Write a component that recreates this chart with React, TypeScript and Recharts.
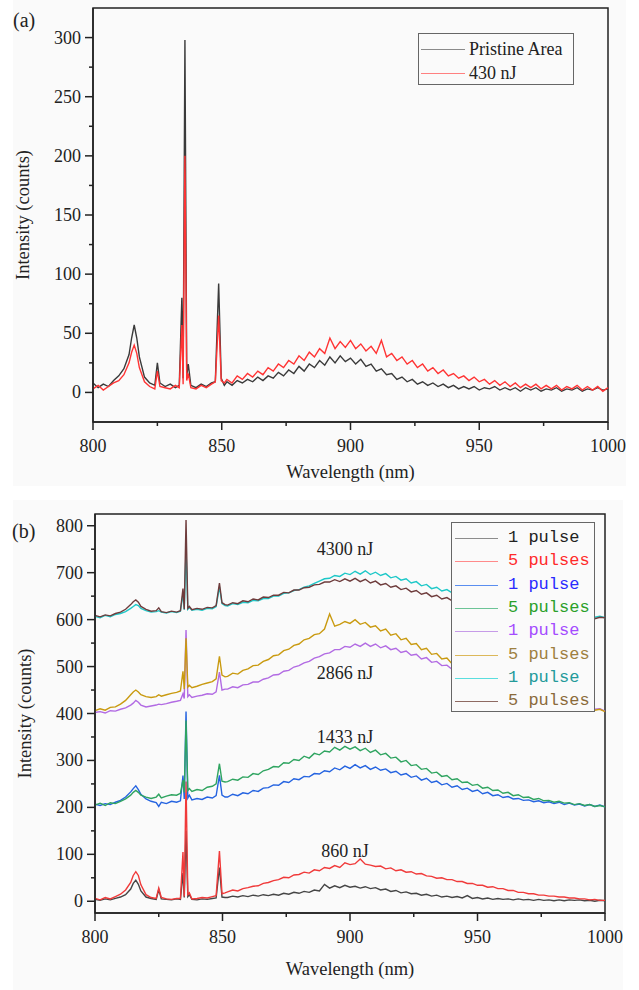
import { LineChart, Line, XAxis, YAxis, ReferenceArea } from 'recharts'

const SERIF = '"Liberation Serif", "Times New Roman", serif'
const MONO = '"Liberation Mono", "DejaVu Sans Mono", monospace'
const INK = '#222'

// wavelength grid (nm), denser around the sharp lines
const wavelength = [
  800, 802, 804, 806, 808, 810, 812, 814, 815, 816, 817, 818, 820, 822, 824, 825, 826, 828, 830, 832,
  833.5, 834.5, 835, 835.7, 836.4, 837, 838, 840, 842, 844, 846, 847.5, 848.8, 849.8, 851,
  852, 854, 856, 858, 860, 862, 864, 866, 868, 870,
  872, 874, 876, 878, 880, 882, 884, 886, 888, 890,
  892, 894, 896, 898, 900, 902, 904, 906, 908, 910,
  912, 914, 916, 918, 920, 922, 924, 926, 928, 930,
  932, 934, 936, 938, 940, 942, 944, 946, 948, 950,
  952, 954, 956, 958, 960, 962, 964, 966, 968, 970,
  972, 974, 976, 978, 980, 982, 984, 986, 988, 990,
  992, 994, 996, 998, 1000,
]

// panel (a)
const pristine = [
  8, 4, 7, 5, 10, 14, 20, 32, 46, 57, 46, 30, 13, 8, 6, 25, 8, 5, 7, 4,
  6, 80, 12, 298, 14, 24, 6, 4, 7, 5, 8, 9, 92, 12, 6,
  9, 6, 10, 8, 11, 9, 13, 10, 14, 12,
  17, 14, 19, 16, 22, 18, 24, 21, 27, 23,
  30, 25, 31, 26, 29, 24, 28, 22, 24, 18,
  20, 15, 16, 11, 13, 9, 11, 7, 9, 6,
  8, 5, 7, 4, 6, 3, 5, 3, 5, 2,
  4, 3, 5, 2, 4, 2, 4, 1, 4, 2,
  4, 1, 3, 2, 4, 1, 3, 2, 4, 1,
  3, 2, 4, 2, 3,
]
const nj430 = [
  3, 6, 2, 5, 8, 10, 15, 25, 34, 40, 33, 21, 9, 5, 3, 18, 5, 4, 3, 6,
  4, 57, 7, 200, 10, 16, 4, 3, 6, 4, 7, 9, 65, 10, 8,
  11, 8, 14, 11, 16, 13, 18, 15, 21, 18,
  24, 21, 27, 24, 31, 27, 34, 30, 37, 33,
  46, 37, 43, 38, 44, 37, 41, 35, 39, 33,
  44, 30, 33, 27, 30, 24, 27, 21, 24, 18,
  21, 16, 19, 14, 16, 12, 14, 10, 13, 9,
  11, 7, 10, 6, 9, 5, 8, 4, 7, 4,
  7, 3, 6, 3, 6, 2, 5, 3, 6, 2,
  5, 2, 5, 1, 4,
]

// panel (b)
const p1_860 = [
  4, 2, 5, 3, 6, 9, 14, 26, 38, 45, 36, 22, 9, 6, 4, 25, 5, 4, 3, 5,
  4, 60, 8, 150, 10, 14, 4, 3, 5, 4, 6, 7, 72, 9, 8,
  8, 11, 9, 12, 10, 13, 11, 14, 12, 15,
  13, 17, 15, 19, 17, 21, 19, 24, 22, 36,
  28, 33, 29, 34, 30, 32, 28, 31, 27, 29,
  24, 26, 21, 23, 18, 20, 16, 17, 13, 15,
  11, 13, 9, 11, 8, 10, 7, 12, 6, 8,
  5, 7, 4, 6, 4, 5, 3, 5, 3, 4,
  2, 4, 2, 3, 1, 3, 1, 3, 2, 3,
  1, 2, 0, 2, 1,
]
const p5_860 = [
  6, 3, 8, 5, 10, 15, 24, 40, 55, 63, 55, 35, 14, 8, 6, 28, 8, 5, 4, 6,
  6, 105, 10, 255, 14, 18, 5, 6, 8, 7, 10, 12, 107, 16, 18,
  20, 24, 22, 27, 29, 32, 33, 38, 40, 44,
  46, 51, 50, 56, 57, 62, 60, 67, 65, 72,
  70, 76, 72, 82, 78, 80, 90, 79, 77, 74,
  75, 69, 71, 65, 67, 62, 63, 58, 59, 54,
  53, 49, 50, 46, 46, 42, 42, 38, 38, 34,
  34, 30, 31, 27, 27, 23, 23, 19, 19, 16,
  16, 13, 13, 11, 11, 9, 9, 7, 7, 5,
  5, 3, 4, 2, 2,
]
const p1_1433 = [
  207, 204, 208, 206, 211, 215, 222, 233, 240, 246, 238, 228, 218, 213, 210, 202, 211, 208, 213, 211,
  214, 268, 218, 404, 220, 226, 216, 219, 217, 222, 220, 225, 268, 226, 222,
  222, 228, 225, 231, 229, 236, 234, 241, 242, 248,
  247, 255, 253, 261, 259, 266, 265, 272, 271, 278,
  276, 284, 280, 288, 283, 291, 284, 289, 281, 286,
  279, 282, 274, 277, 269, 272, 264, 267, 258, 262,
  253, 256, 248, 251, 243, 246, 238, 241, 234, 237,
  229, 232, 225, 227, 221, 223, 218, 219, 215, 216,
  212, 214, 210, 212, 208, 211, 206, 209, 205, 207,
  203, 206, 202, 205, 201,
]
const p5_1433 = [
  205, 209, 204, 210, 208, 213, 218, 226, 232, 236, 232, 226, 222, 219, 222, 228, 220, 224, 227, 226,
  230, 258, 232, 385, 236, 240, 234, 238, 236, 243, 245, 250, 293, 256, 254,
  255, 260, 258, 265, 264, 272, 270, 278, 281, 287,
  286, 295, 294, 302, 300, 309, 305, 315, 312, 320,
  318, 328, 322, 330, 324, 329, 321, 326, 317, 322,
  312, 315, 305, 307, 297, 300, 289, 291, 281, 283,
  273, 275, 266, 268, 259, 261, 253, 254, 247, 249,
  241, 243, 236, 237, 230, 232, 225, 227, 221, 222,
  217, 219, 214, 215, 211, 213, 209, 210, 206, 208,
  204, 206, 202, 204, 201,
]
const p1_2866 = [
  402, 404, 401, 406, 405, 409, 412, 418, 422, 428, 424, 418, 414, 416, 418, 420, 419, 421, 424, 426,
  428, 442, 432, 578, 436, 440, 434, 437, 439, 442, 441, 446, 488, 450, 452,
  452, 457, 455, 461, 462, 467, 467, 473, 476, 482,
  483, 490, 492, 499, 502, 508, 511, 518, 521, 527,
  529, 536, 536, 543, 541, 548, 543, 550, 543, 548,
  540, 544, 536, 539, 530, 533, 524, 526, 516, 519,
  509, 511, 502, 503, 494, 496, 488, 489, 481, 482,
  474, 475, 466, 468, 459, 461, 452, 453, 445, 447,
  439, 440, 433, 435, 428, 429, 423, 424, 418, 420,
  413, 415, 409, 410, 405,
]
const p5_2866 = [
  406, 410, 407, 413, 414, 420, 428, 440, 446, 450, 446, 440, 436, 434, 436, 440, 437, 440, 443, 445,
  448, 490, 452, 560, 456, 460, 455, 458, 462, 465, 468, 474, 522, 482, 478,
  479, 486, 484, 492, 495, 502, 503, 511, 515, 523,
  525, 534, 537, 545, 548, 557, 560, 568, 570, 580,
  612, 586, 590, 596, 592, 600, 590, 594, 584, 587,
  576, 580, 567, 570, 557, 560, 547, 549, 536, 539,
  526, 528, 516, 518, 506, 508, 497, 499, 488, 490,
  479, 481, 470, 472, 462, 463, 454, 455, 446, 447,
  438, 440, 431, 433, 425, 427, 419, 421, 414, 416,
  410, 412, 407, 409, 404,
]
const p1_4300 = [
  607, 604, 609, 606, 611, 613, 617, 624, 628, 632, 630, 624, 619, 616, 617, 619, 616, 614, 617, 615,
  618, 655, 621, 750, 622, 626, 620, 622, 620, 624, 623, 628, 670, 634, 630,
  629, 634, 632, 637, 636, 641, 640, 645, 645, 650,
  650, 656, 657, 662, 664, 669, 672, 677, 682, 687,
  688, 694, 692, 699, 696, 703, 697, 704, 696, 701,
  694, 698, 689, 692, 684, 687, 678, 681, 672, 675,
  666, 669, 661, 664, 657, 659, 652, 655, 648, 651,
  644, 646, 639, 641, 635, 637, 630, 632, 626, 628,
  622, 624, 618, 620, 615, 617, 612, 614, 609, 611,
  607, 609, 605, 607, 604,
]
const p5_4300 = [
  609, 606, 610, 608, 613, 616, 622, 632, 638, 642, 637, 628, 622, 618, 619, 625, 617, 615, 618, 616,
  619, 666, 622, 812, 624, 628, 621, 624, 622, 626, 625, 630, 678, 636, 632,
  631, 636, 634, 640, 638, 644, 642, 648, 647, 652,
  652, 658, 657, 663, 663, 668, 669, 674, 675, 680,
  680, 685, 681, 687, 682, 688, 681, 686, 678, 682,
  674, 677, 669, 672, 664, 667, 659, 662, 654, 657,
  649, 652, 644, 647, 640, 643, 636, 639, 632, 635,
  628, 631, 625, 627, 621, 624, 618, 621, 615, 618,
  612, 615, 610, 612, 608, 611, 606, 609, 604, 607,
  603, 606, 602, 605, 604,
]

const xTicks = [800, 825, 850, 875, 900, 925, 950, 975, 1000]
const yTicksA = [0, 25, 50, 75, 100, 125, 150, 175, 200, 225, 250, 275, 300]
const yTicksB = [0, 50, 100, 150, 200, 250, 300, 350, 400, 450, 500, 550, 600, 650, 700, 750, 800]

const seriesA = [
  { key: 'pristine', name: 'Pristine Area', values: pristine, color: '#3a3a3a', legend: '#8a8a8a' },
  { key: 'nj430', name: '430 nJ', values: nj430, color: '#ff3333', legend: '#ff8080' },
]

const seriesB = [
  { key: 'p1_860', name: '1 pulse', values: p1_860, color: '#454545', legend: '#8c8c8c', text: '#222' },
  { key: 'p5_860', name: '5 pulses', values: p5_860, color: '#f03a3a', legend: '#ff8a8a', text: '#ff2a2a' },
  { key: 'p1_1433', name: '1 pulse', values: p1_1433, color: '#2463e0', legend: '#5a8ef0', text: '#2a2aff' },
  { key: 'p5_1433', name: '5 pulses', values: p5_1433, color: '#2fa460', legend: '#6cc497', text: '#2aa02a' },
  { key: 'p1_2866', name: '1 pulse', values: p1_2866, color: '#b26be3', legend: '#c69be8', text: '#a44cff' },
  { key: 'p5_2866', name: '5 pulses', values: p5_2866, color: '#c99a10', legend: '#dcb85a', text: '#9e8040' },
  { key: 'p1_4300', name: '1 pulse', values: p1_4300, color: '#1ec8c8', legend: '#5adede', text: '#249a9a' },
  { key: 'p5_4300', name: '5 pulses', values: p5_4300, color: '#6e3c3c', legend: '#8e6a62', text: '#8a6a3a' },
]

const energyLabels = [
  { text: '4300 nJ', top: 549 },
  { text: '2866 nJ', top: 673 },
  { text: '1433 nJ', top: 737 },
  { text: '860 nJ', top: 851 },
]

const rowsA = wavelength.map((wl, i) => {
  const row: Record<string, number> = { wl }
  seriesA.forEach((s) => (row[s.key] = s.values[i]))
  return row
})
const rowsB = wavelength.map((wl, i) => {
  const row: Record<string, number> = { wl }
  seriesB.forEach((s) => (row[s.key] = s.values[i]))
  return row
})

const GAP = 12 // tickSize + tickMargin
const serifStyle = { fontFamily: SERIF }

function XTick({ x, y, payload }: any) {
  const v = payload.value
  const major = v % 50 === 0
  const y0 = y - GAP
  return (
    <g>
      <line x1={x} x2={x} y1={y0} y2={y0 + (major ? 8 : 4)} stroke={INK} strokeWidth={1.5} />
      {major && (
        <text x={x} y={y0 + 30} textAnchor="middle" fontSize={18} style={serifStyle} fill={INK}>
          {v}
        </text>
      )}
    </g>
  )
}

const makeYTick = (step: number) =>
  function YTick({ x, y, payload }: any) {
    const v = payload.value
    const major = v % step === 0
    const x0 = x + GAP
    return (
      <g>
        <line x1={x0} x2={x0 - (major ? 8 : 4)} y1={y} y2={y} stroke={INK} strokeWidth={1.5} />
        {major && (
          <text x={x0 - 12} y={y + 6} textAnchor="end" fontSize={18} style={serifStyle} fill={INK}>
            {v}
          </text>
        )}
      </g>
    )
  }

const yLabel = ({ viewBox }: any) => {
  const cx = viewBox.x + 5
  const cy = viewBox.y + viewBox.height / 2
  return (
    <text
      x={cx}
      y={cy}
      transform={`rotate(-90, ${cx}, ${cy})`}
      textAnchor="middle"
      dominantBaseline="central"
      fontSize={18.5}
      style={serifStyle}
      fill={INK}
    >
      Intensity (counts)
    </text>
  )
}

const makeXLabel = (offset: number) =>
  function XLabel({ viewBox }: any) {
    const cx = viewBox.x + viewBox.width / 2
    const top = viewBox.y + viewBox.height + offset
    return (
      <text x={cx} y={top + 13} textAnchor="middle" fontSize={18.5} style={serifStyle} fill={INK}>
        Wavelength (nm)
      </text>
    )
  }

function Panel({ rows, series, ticksY, domainY, majorY, margin, labelOffset }: any) {
  return (
    <LineChart width={639} height={490} data={rows} margin={margin}>
      <XAxis
        dataKey="wl"
        type="number"
        domain={[800, 1000]}
        ticks={xTicks}
        interval={0}
        tickSize={8}
        tickMargin={4}
        tickLine={false}
        tick={XTick}
        height={40}
        axisLine={{ stroke: INK, strokeWidth: 1.5 }}
        label={{ content: makeXLabel(labelOffset) }}
      />
      <YAxis
        type="number"
        domain={domainY}
        ticks={ticksY}
        interval={0}
        tickSize={8}
        tickMargin={4}
        tickLine={false}
        tick={makeYTick(majorY)}
        width={75}
        axisLine={{ stroke: INK, strokeWidth: 1.5 }}
        label={{ content: yLabel }}
      />
      <ReferenceArea x1={800} x2={1000} y1={domainY[0]} y2={domainY[1]} fill="none" stroke={INK} strokeWidth={1.5} ifOverflow="visible" />
      {series.map((s: any) => (
        <Line
          key={s.key}
          dataKey={s.key}
          name={s.name}
          type="linear"
          stroke={s.color}
          strokeWidth={1.4}
          dot={false}
          activeDot={false}
          isAnimationActive={false}
        />
      ))}
    </LineChart>
  )
}

export default function App() {
  return (
    <div style={{ position: 'absolute', left: 0, top: 0, width: 639, height: 990, background: '#fff', fontFamily: SERIF, color: INK }}>
      <div style={{ position: 'absolute', left: 13, top: 0, width: 613, height: 486, background: '#fafafa' }} />
      <div style={{ position: 'absolute', left: 13, top: 500, width: 610, height: 490, background: '#fafafa' }} />

      <div style={{ position: 'absolute', left: 0, top: 0 }}>
        <Panel
          rows={rowsA}
          series={seriesA}
          ticksY={yTicksA}
          domainY={[-25, 325]}
          majorY={50}
          margin={{ top: 8, right: 31, bottom: 28, left: 18 }}
          labelOffset={3}
        />
      </div>
      <div style={{ position: 'absolute', left: 13, top: 8, fontSize: 20, lineHeight: '24px' }}>(a)</div>

      <div style={{ position: 'absolute', left: 418, top: 33, width: 156, height: 52, border: '1px solid #666', boxSizing: 'border-box', background: '#fafafa' }}>
        {seriesA.map((s, i) => (
          <div key={s.key} style={{ position: 'absolute', left: 0, top: 3 + 24 * i, height: 24, width: '100%' }}>
            <div style={{ position: 'absolute', left: 2, top: 12, width: 44, height: 1, background: s.legend }} />
            <div style={{ position: 'absolute', left: 50, top: 0, fontSize: 18, lineHeight: '24px', whiteSpace: 'nowrap' }}>{s.name}</div>
          </div>
        ))}
      </div>

      <div style={{ position: 'absolute', left: 2, top: 490 }}>
        <Panel
          rows={rowsB}
          series={seriesB}
          ticksY={yTicksB}
          domainY={[-25, 825]}
          majorY={100}
          margin={{ top: 24, right: 36, bottom: 27, left: 18 }}
          labelOffset={9}
        />
      </div>
      <div style={{ position: 'absolute', left: 12, top: 519, fontSize: 20, lineHeight: '24px' }}>(b)</div>

      {energyLabels.map((l) => (
        <div key={l.text} style={{ position: 'absolute', left: 345, top: l.top, transform: 'translate(-50%, -50%)', fontSize: 18, whiteSpace: 'nowrap' }}>
          {l.text}
        </div>
      ))}

      <div style={{ position: 'absolute', left: 451, top: 522, width: 144, height: 190, border: '1px solid #666', boxSizing: 'border-box', background: '#fafafa' }}>
        {seriesB.map((s, i) => (
          <div key={s.key} style={{ position: 'absolute', left: 0, top: 3 + 23.3 * i, height: 24, width: '100%' }}>
            <div style={{ position: 'absolute', left: 3, top: 12, width: 43, height: 1, background: s.legend }} />
            <div style={{ position: 'absolute', left: 56, top: 0, fontSize: 17, lineHeight: '24px', fontFamily: MONO, color: s.text, whiteSpace: 'nowrap' }}>
              {s.name}
            </div>
          </div>
        ))}
      </div>
    </div>
  )
}
